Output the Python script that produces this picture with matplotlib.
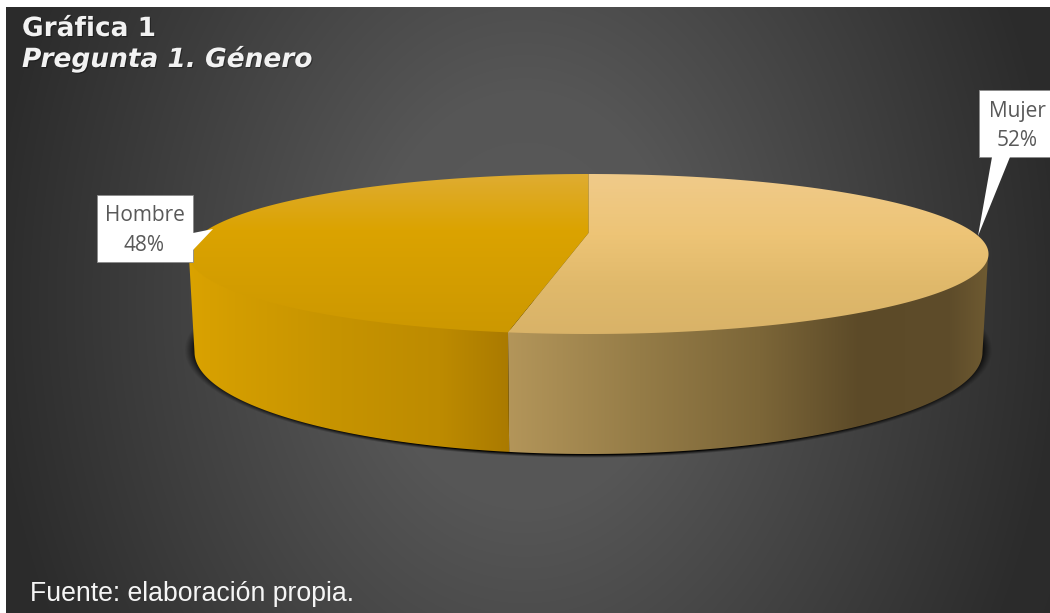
import numpy as np
import matplotlib
matplotlib.use("Agg")
import matplotlib.pyplot as plt
import matplotlib.patheffects as pe
from matplotlib.patches import Polygon, Rectangle

# Survey answers
categories = ["Mujer", "Hombre"]
percentages = [52, 48]
title_lines = ["Gráfica 1", "Pregunta 1. Género"]
source_note = "Fuente: elaboración propia."

W, H = 1050, 613
fig = plt.figure(figsize=(W / 100, H / 100), dpi=100, facecolor="white")
ax = fig.add_axes([0, 0, 1, 1])
ax.set_xlim(0, W)
ax.set_ylim(H, 0)
ax.axis("off")

# Dark panel with a soft radial glow
xs, ys = np.meshgrid(np.arange(6, W) + 0.5, np.arange(7, H) + 0.5)
d = np.sqrt(((xs - 525) / 530) ** 2 + ((ys - 300) / 700) ** 2)
gray = np.interp(d, [0, 0.3, 1.0, 1.3], [0x5a, 0x56, 0x2c, 0x28]) / 255
ax.imshow(np.dstack([gray] * 3), extent=[6, W, H, 7], aspect="auto",
          zorder=0, interpolation="bilinear")

# Disc geometry: top face and the slightly narrower base of the cylinder
CX = 588.5
TOP = dict(rx=400, cy=254, ry=80)
BASE = dict(rx=394, cy=352, ry=102)
PERSPECTIVE = 0.2625
SKEW = np.radians(6.8)


def project(theta, rx, cy, ry):
    """Map clockwise angles from twelve o'clock onto a foreshortened disc."""
    phi = theta + SKEW * np.sin(2 * theta)
    w = 1 + PERSPECTIVE * np.cos(phi)
    x = np.sqrt(1 - PERSPECTIVE ** 2) * np.sin(phi) / w
    y = (-PERSPECTIVE - np.cos(phi)) / w
    return CX + rx * x, cy + ry * y


def gradient_fill(poly_xy, stops, axis, zorder):
    """Fill a polygon with a linear gradient along screen x or y."""
    poly = Polygon(poly_xy, closed=True, facecolor="none", edgecolor="none", zorder=zorder)
    ax.add_patch(poly)
    pos = np.array([s[0] for s in stops], dtype=float)
    rgb = np.array([matplotlib.colors.to_rgb(s[1]) for s in stops])
    lo, hi = pos[0], pos[-1]
    t = np.arange(lo, hi + 1)
    ramp = np.stack([np.interp(t, pos, rgb[:, c]) for c in range(3)], axis=-1)
    if axis == "x":
        img = ramp[np.newaxis, :, :]
        extent = [lo, hi, poly_xy[:, 1].max() + 1, poly_xy[:, 1].min() - 1]
    else:
        img = ramp[:, np.newaxis, :]
        extent = [poly_xy[:, 0].min() - 1, poly_xy[:, 0].max() + 1, hi, lo]
    im = ax.imshow(img, extent=extent, aspect="auto", zorder=zorder, interpolation="bilinear")
    im.set_clip_path(poly)


# Soft ground shadow beneath the cylinder
sx, sy = np.meshgrid(np.arange(150, 1030) + 0.5, np.arange(300, 480) + 0.5)
sd = np.sqrt(((sx - CX) / 404) ** 2 + ((sy - 350) / 108) ** 2)
shadow = np.zeros(sd.shape + (4,))
shadow[..., 3] = np.clip((1.0 - sd) / 0.03, 0, 1) ** 1.2 * 0.95
ax.imshow(shadow, extent=[150, 1030, 480, 300], aspect="auto", zorder=1)

# Slice boundaries follow directly from the percentages
edges = np.concatenate([[0], np.cumsum(percentages)]) / np.sum(percentages) * 2 * np.pi

wall_stops = {
    "Mujer": [(500, "#b5975b"), (640, "#957c47"), (760, "#7c6638"), (860, "#5c4a28"),
              (950, "#5e4c2a"), (990, "#6f5b32")],
    "Hombre": [(185, "#dba300"), (235, "#d39d00"), (330, "#c79400"), (440, "#bd8b00"),
               (510, "#aa7a00")],
}
face_stops = {
    "Mujer": [(170, "#f0cb8b"), (235, "#edc476"), (285, "#e0b96b"), (340, "#d8b268")],
    "Hombre": [(170, "#dfad35"), (230, "#dba300"), (285, "#d39d00"), (340, "#cb9700")],
}

# Walls reach a little under the top face so no seam shows along the rim
under_face = dict(TOP, cy=TOP["cy"] - 3)
for name, a0, a1 in zip(categories, edges[:-1], edges[1:]):
    theta = np.linspace(a0, a1, 600)
    tx, ty = project(theta, **under_face)
    bx, by = project(theta, **BASE)
    # Only the near half of each rim bounds the visible wall
    near_t = ty >= TOP["cy"]
    near_b = by >= BASE["cy"]
    wall = np.column_stack([np.r_[tx[near_t], bx[near_b][::-1]],
                            np.r_[ty[near_t], by[near_b][::-1]]])
    gradient_fill(wall, wall_stops[name], "x", 2)

# Hub of the pie: where the axis of the disc meets the top face
hub = (CX, TOP["cy"] - PERSPECTIVE * TOP["ry"])
for name, a0, a1 in zip(categories, edges[:-1], edges[1:]):
    theta = np.linspace(a0, a1, 600)
    tx, ty = project(theta, **TOP)
    face = np.column_stack([np.r_[hub[0], tx], np.r_[hub[1], ty]])
    gradient_fill(face, face_stops[name], "y", 3)

# Callout labels
label_font = dict(family="Open Sans", fontsize=15, color="#595959", ha="center", va="center", zorder=6)
callouts = {
    "Mujer": dict(box=(978.5, 89.5, 75, 67.5), tail=[(992, 157), (1010, 157), (978, 236)],
                  text_x=1017, text_y=(112, 141)),
    "Hombre": dict(box=(96.5, 194.5, 96.5, 67), tail=[(193, 233), (193, 250), (213, 229)],
                   text_x=144.5, text_y=(215.5, 245.5)),
}
for name, pct in zip(categories, percentages):
    c = callouts[name]
    x0, y0, bw, bh = c["box"]
    ax.add_patch(Rectangle((x0, y0), bw, bh, facecolor="white", edgecolor="#8a8a8a",
                           linewidth=0.6, zorder=4))
    ax.add_patch(Polygon(c["tail"], closed=True, facecolor="white", edgecolor="none", zorder=5))
    ax.text(c["text_x"], c["text_y"][0], name, **label_font)
    ax.text(c["text_x"], c["text_y"][1], f"{pct}%", **label_font)

# Heading with a faint drop shadow
glow = [pe.withSimplePatchShadow(offset=(0.8, -0.8), shadow_rgbFace="black", alpha=0.35)]
ax.text(22, 36, title_lines[0], family="DejaVu Sans", fontweight="bold", fontsize=19,
        color="#f2f2f2", va="baseline", zorder=6, path_effects=glow)
ax.text(22, 67, title_lines[1], family="DejaVu Sans", fontweight="bold", fontstyle="italic",
        fontsize=19, color="#f2f2f2", va="baseline", zorder=6, path_effects=glow)

ax.text(30, 601, source_note, family="Liberation Sans", fontsize=19.2, color="#f5f5f5",
        va="baseline", zorder=6)

fig.savefig("out.png", dpi=100, facecolor="white")
